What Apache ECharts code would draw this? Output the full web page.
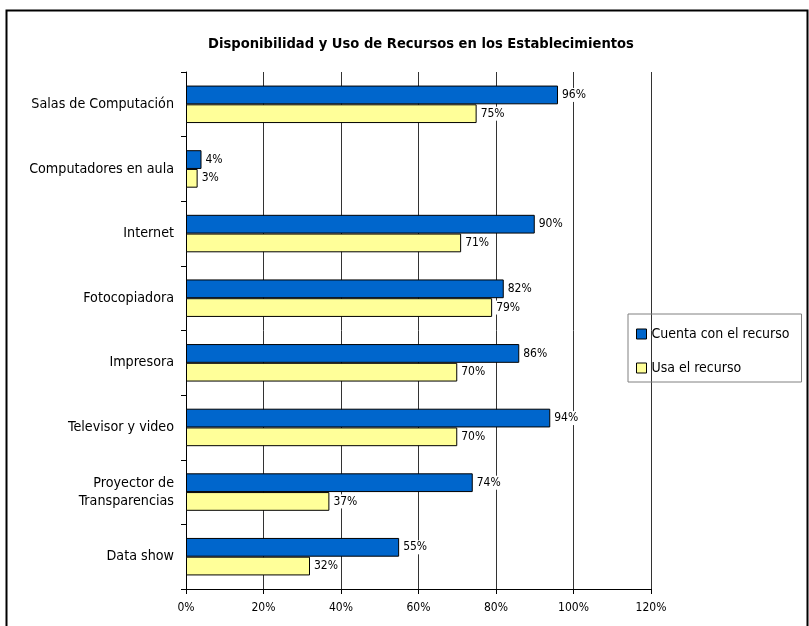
<!DOCTYPE html>
<html><head><meta charset="utf-8">
<script src="https://cdn.jsdelivr.net/npm/echarts@6/dist/echarts.min.js"></script>
<style>html,body{margin:0;padding:0;background:#fff}#c{width:809px;height:626px}</style>
</head><body><div id="c"></div>
<script>
const categories = ["Salas de Computación","Computadores en aula","Internet","Fotocopiadora","Impresora","Televisor y video","Proyector de\nTransparencias","Data show"];
const cuenta = [96,4,90,82,86,94,74,55];
const usa = [75,3,71,79,70,70,37,32];
const seriesNames = ["Cuenta con el recurso","Usa el recurso"];

const FONT = "'DejaVu Sans Condensed', 'DejaVu Sans'";
const chart = echarts.init(document.getElementById('c'), null, {renderer:'canvas'});
const labelCfg = {
  show:true, position:'right', distance:2,
  formatter: p => p.value + '%',
  color:'#000', fontFamily:FONT, fontSize:12,
  backgroundColor:'#fff', padding:[1,2,1,2]
};
chart.setOption({
  animation:false,
  title:{text:'Disponibilidad y Uso de Recursos en los Establecimientos', left:416, top:32, textAlign:'center',
    textStyle:{fontFamily:FONT, fontSize:14.6, fontWeight:'bold', color:'#000'}},
  graphic:[{type:'rect', shape:{x:6.5,y:10.5,width:801,height:640}, style:{fill:'none', stroke:'#000', lineWidth:2}, silent:true, z:-1}],
  legend:{orient:'vertical', left:628, top:314,
    padding:[13,12,7,8], itemGap:20, itemWidth:10, itemHeight:10, itemStyle:{borderColor:'#000', borderWidth:1},
    borderColor:'#808080', borderWidth:1, icon:'rect',
    textStyle:{fontFamily:FONT, fontSize:14, color:'#000', padding:[0,0,0,0]},
    data:seriesNames},
  grid:{left:186, right:158, top:72, bottom:37, containLabel:false},
  xAxis:{type:'value', min:0, max:120, interval:20,
    axisLine:{show:true, lineStyle:{color:'#000'}},
    axisTick:{show:true, length:5, lineStyle:{color:'#000'}},
    axisLabel:{formatter: v => v + '%', fontFamily:FONT, fontSize:12, color:'#000', margin:13},
    splitLine:{show:true, lineStyle:{color:'#333', width:1}}},
  yAxis:{type:'category', data:categories, inverse:true,
    axisLine:{show:true, lineStyle:{color:'#000'}},
    axisTick:{show:true, length:5, inside:false, lineStyle:{color:'#000'}},
    axisLabel:{fontFamily:FONT, fontSize:14.2, color:'#000', margin:12, lineHeight:18, align:'right'}},
  series:[
    {name:seriesNames[0], type:'bar', data:cuenta, barGap:'0%', barCategoryGap:'42%',
      itemStyle:{color:'#0066cc', borderColor:'#000', borderWidth:1}, label:labelCfg},
    {name:seriesNames[1], type:'bar', data:usa,
      itemStyle:{color:'#ffff99', borderColor:'#000', borderWidth:1}, label:labelCfg}
  ]
});
</script></body></html>
